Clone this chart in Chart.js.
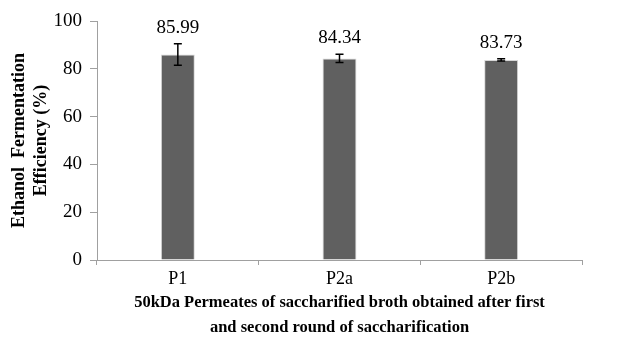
<!DOCTYPE html>
<html><head><meta charset="utf-8">
<script src="https://cdn.jsdelivr.net/npm/chart.js@4"></script>
<style>html,body{margin:0;padding:0;background:#fff}#wrap{width:617px;height:337px}</style>
</head><body><div id="wrap"><canvas id="c" width="617" height="337"></canvas></div>
<script>
const categories = ["P1", "P2a", "P2b"];
const efficiency = [85.99, 84.34, 83.73];
const errors = [4.5, 1.7, 0.5];
const valueLabels = ["85.99", "84.34", "83.73"];
const yTicks = [0, 20, 40, 60, 80, 100];

const serif = "'Liberation Serif', 'Times New Roman', serif";

const errPlugin = {
  id: 'errbars',
  afterDatasetsDraw(chart) {
    const ctx = chart.ctx;
    const meta = chart.getDatasetMeta(0);
    const ys = chart.scales.y;
    ctx.save();
    meta.data.forEach((bar, i) => {
      const v = efficiency[i], e = errors[i];
      const x = bar.x;
      const yt = ys.getPixelForValue(v + e);
      const yb = ys.getPixelForValue(v - e);
      ctx.strokeStyle = '#000';
      ctx.lineWidth = 1.5;
      ctx.beginPath();
      ctx.moveTo(x, yt); ctx.lineTo(x, yb);
      ctx.moveTo(x - 4, yt); ctx.lineTo(x + 4, yt);
      ctx.moveTo(x - 4, yb); ctx.lineTo(x + 4, yb);
      ctx.stroke();
      ctx.fillStyle = '#000';
      ctx.font = "19px " + serif;
      ctx.textAlign = 'center';
      ctx.textBaseline = 'middle';
      ctx.fillText(valueLabels[i], x, yt - 16);
    });
    ctx.restore();
  }
};

new Chart(document.getElementById('c'), {
  type: 'bar',
  data: {
    labels: categories,
    datasets: [{
      data: efficiency,
      backgroundColor: '#606060',
      borderColor: '#d8d8d8',
      borderWidth: 1,
      barPercentage: 0.21,
      categoryPercentage: 1.0
    }]
  },
  plugins: [errPlugin],
  options: {
    responsive: false,
    animation: false,
    devicePixelRatio: 1,
    layout: { padding: { left: 9, right: 35, top: 21, bottom: 0 } },
    plugins: { legend: { display: false }, tooltip: { enabled: false } },
    scales: {
      x: {
        offset: true,
        grid: { offset: true, drawOnChartArea: false, color: '#a0a0a0', tickLength: 5 },
        border: { color: '#a0a0a0' },
        ticks: { color: '#000', font: { family: serif, size: 18 }, padding: 3 },
        title: {
          display: true,
          text: ['50kDa Permeates of saccharified broth obtained after first', 'and second round of saccharification'],
          color: '#000',
          font: { family: serif, size: 16.5, weight: 'bold', lineHeight: 1.52 },
          padding: { top: 4, bottom: -3 }
        },
        afterFit(s) { s.height = 77; }
      },
      y: {
        min: 0, max: 100,
        afterBuildTicks(s) { s.ticks = yTicks.map(v => ({ value: v })); },
        grid: { drawOnChartArea: false, color: '#a0a0a0', tickLength: 7 },
        border: { color: '#a0a0a0' },
        ticks: { color: '#000', font: { family: serif, size: 19 }, padding: 8 },
        title: {
          display: true,
          text: ['Ethanol  Fermentation', 'Efficiency (%)'],
          color: '#000',
          font: { family: serif, size: 18, weight: 'bold', lineHeight: 1.2 },
          padding: { top: 0, bottom: 4 }
        },
        afterFit(s) { s.width = 88; }
      }
    }
  }
});
</script></body></html>
